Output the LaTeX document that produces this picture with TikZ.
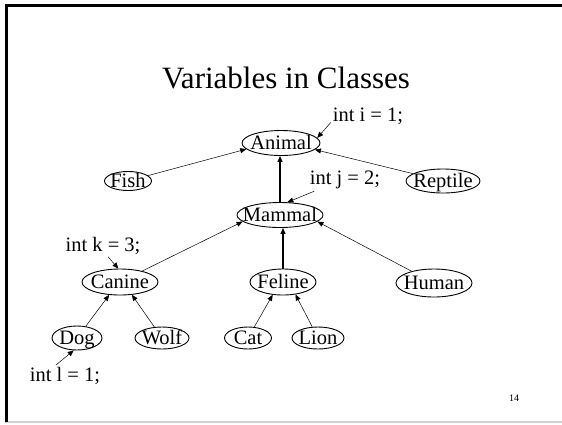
\documentclass[tikz,border=0pt]{standalone}
\usepackage{fontspec}
\setmainfont{Liberation Serif}
\usetikzlibrary{shapes.geometric,arrows.meta}

% label text centred on its cap height, taking no room of its own
\newcommand\cls[1]{\makebox[0pt]{\raisebox{-.33em}[0pt][0pt]{#1}}}

\tikzset{
  klass/.style args={#1/#2}{ellipse, draw, line width=0.9pt, inner sep=0pt,
    minimum width=#1pt, minimum height=#2pt, font=\fontsize{20.5}{24}\selectfont},
  var/.style={inner sep=2pt, font=\fontsize{20.5}{24}\selectfont},
  inh/.style={line width=0.5pt, -{Triangle[length=6pt,width=5pt]}},
  inhmain/.style={line width=1.2pt, -{Triangle[length=6pt,width=5pt]}},
}

\begin{document}
\begin{tikzpicture}[x=1pt, y=-1pt]
  \useasboundingbox (0,0) rectangle (562,424);

  % slide frame
  \draw[gray!35, line width=1.2pt] (5,422) -- (562,422);
  \draw[line width=2.6pt] (6.3,422) -- (6.3,5.3) -- (562,5.3);

  % title and page number
  \node[anchor=base, font=\fontsize{31}{36}\selectfont] (title) at (286,88) {Variables in Classes};
  \node[font=\fontsize{10}{12}\selectfont] (page) at (514,398) {14};

  % class hierarchy
  \node[klass=78/25] (Animal)  at (281,143) {\cls{Animal}};
  \node[klass=47/19] (Fish)    at (128,181) {\cls{Fish}};
  \node[klass=74/24] (Reptile) at (443,181) {\cls{Reptile}};
  \node[klass=86/25] (Mammal)  at (280,215) {\cls{Mammal}};
  \node[klass=76/26] (Canine)  at (120,282) {\cls{Canine}};
  \node[klass=66/26] (Feline)  at (283,282) {\cls{Feline}};
  \node[klass=76/28] (Human)   at (434,283) {\cls{Human}};
  \node[klass=50/24] (Dog)     at (77,338)  {\cls{Dog}};
  \node[klass=54/22] (Wolf)    at (162,338) {\cls{Wolf}};
  \node[klass=47/22] (Cat)     at (248,338) {\cls{Cat}};
  \node[klass=52/22] (Lion)    at (318,338) {\cls{Lion}};

  % variable declarations
  \node[var] (vi) at (368,116) {int i = 1;};
  \node[var] (vj) at (345,180) {int j = 2;};
  \node[var] (vk) at (103,246) {int k = 3;};
  \node[var] (vl) at (65,376)  {int l = 1;};

  % inheritance edges
  \draw[inh] (Fish) -- (Animal.190);
  \draw[inh] (Reptile) -- (Animal.-11);
  \draw[inhmain] (Mammal.north) -- (Mammal.north |- Animal.south);
  \draw[inh] (Canine) -- (Mammal.190);
  \draw[inhmain] (Feline.north) -- (Feline.north |- Mammal.south);
  \draw[inh] (Human) -- (Mammal.-10);
  \draw[inh] (Dog) -- (Canine.230);
  \draw[inh] (Wolf) -- (Canine.313);
  \draw[inh] (Cat) -- (Feline.231);
  \draw[inh] (Lion) -- (Feline.315);

  % declaration pointers
  \draw[inh] (vi.190) -- (Animal.8);
  \draw[inh] (vj.200) -- (Mammal.60);
  \draw[inh] (vk.-65) -- (Canine.97);
  \draw[inh] (vl.130) -- (Dog.255);
\end{tikzpicture}
\end{document}
